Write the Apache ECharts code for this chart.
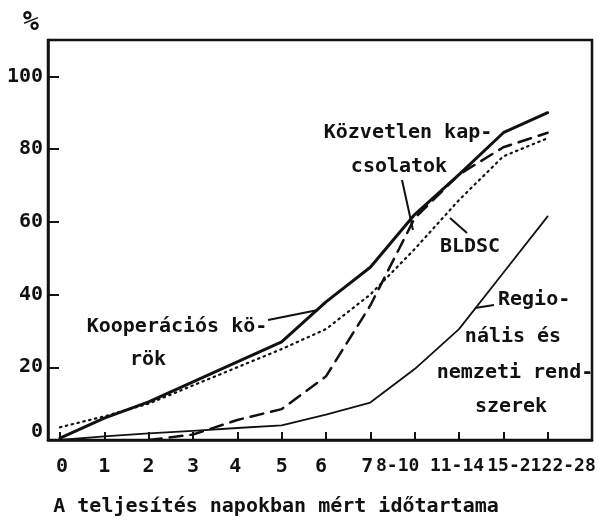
<!DOCTYPE html>
<html>
<head>
<meta charset="utf-8">
<script src="https://cdn.jsdelivr.net/npm/echarts@6/dist/echarts.min.js"></script>
<style>
html, body { margin: 0; padding: 0; background: #fff; }
#main { width: 598px; height: 523px; }
</style>
</head>
<body>
<div id="main"></div>
<script>
// napok (x tengely kategóriái)
const categories = ['0', '1', '2', '3', '4', '5', '6', '7', '8-10', '11-14', '15-21', '22-28'];
const yTicks = [0, 20, 40, 60, 80, 100];
// görbék, %
const kooperacios = [0.5, 6, 10.5, 16, 21.5, 27, 38, 47.5, 62, 73, 84.5, 90];
const bldsc = [3.5, 6.5, 10, 15, 20, 25, 30.5, 40, 52.5, 66, 78, 83];
const kozvetlen = [null, null, 0, 1.5, 5.5, 8.5, 17.5, 37, 61, 73, 80.5, 84.5];
const regionalis = [0, 1, 1.8, 2.5, 3.3, 4, 7, 10.3, 19.5, 30.5, 46, 61.5];

// a címkék vízszintes eltolása (px), ahogy az eredetin állnak
const labelShift = [2, 0, 0, 0, -2, 0, -5, -3, -17, -2, 11, 21];

const ink = '#111';
const font = '"DejaVu Sans Mono", monospace';

const toPairs = (arr) => arr.map((v, i) => [i, v]);
const xIdx = categories.map((c, i) => i);

const rich = {};
labelShift.forEach((s, i) => {
  rich['p' + i] = {
    fontFamily: font,
    fontSize: i < 8 ? 20 : 18,
    fontWeight: 'bold',
    color: ink,
    padding: s > 0 ? [0, 0, 0, 2 * s] : [0, -2 * s, 0, 0],
  };
});

const myChart = echarts.init(document.getElementById('main'));

const lineSeries = (name, data, width, type) => ({
  name: name,
  type: 'line',
  data: toPairs(data),
  showSymbol: false,
  symbol: 'none',
  connectNulls: false,
  silent: true,
  lineStyle: { color: ink, width: width, type: type, cap: 'round', join: 'round' },
});

const txt = (text, x, y, align) => ({
  type: 'text',
  x: x,
  y: y,
  silent: true,
  style: {
    text: text,
    fill: ink,
    font: 'bold 20px ' + font,
    textAlign: align || 'center',
    textVerticalAlign: 'middle',
    align: align || 'center',
    verticalAlign: 'middle',
  },
});

const leader = (x1, y1, x2, y2) => ({
  type: 'line',
  silent: true,
  shape: { x1: x1, y1: y1, x2: x2, y2: y2 },
  style: { stroke: ink, lineWidth: 2 },
});

const options = {
  backgroundColor: '#fff',
  animation: false,
  grid: {
    left: 48,
    top: 40,
    right: 6,
    bottom: 83,
    containLabel: false,
    outerBoundsMode: 'none',
    show: true,
    borderColor: ink,
    borderWidth: 2.5,
  },
  xAxis: {
    type: 'value',
    min: -0.27,
    max: 12,
    name: 'A teljesítés napokban mért időtartama',
    nameLocation: 'middle',
    nameGap: 57,
    nameTextStyle: {
      fontFamily: font,
      fontSize: 20,
      fontWeight: 'bold',
      color: ink,
      padding: [0, 88, 0, 0],
    },
    axisLine: { show: true, onZero: false, lineStyle: { color: ink, width: 2.5 } },
    axisTick: {
      show: true,
      inside: true,
      length: 8,
      customValues: xIdx,
      lineStyle: { color: ink, width: 2 },
    },
    axisLabel: {
      // a 12-es üres címke csak azért kell, hogy a 22-28 ne tűnjön el
      customValues: xIdx.concat([12]),
      margin: 17,
      hideOverlap: false,
      showMinLabel: true,
      showMaxLabel: false,
      formatter: (v) => (v < categories.length ? '{p' + v + '|' + categories[v] + '}' : ''),
      rich: rich,
    },
    splitLine: { show: false },
  },
  yAxis: {
    type: 'value',
    min: 0,
    max: 110,
    name: '%',
    nameLocation: 'end',
    nameGap: 4,
    nameTextStyle: {
      fontFamily: font,
      fontSize: 27,
      fontWeight: 'bold',
      color: ink,
      padding: [0, 34, 0, 0],
    },
    axisLine: { show: true, onZero: false, lineStyle: { color: ink, width: 2.5 } },
    axisTick: {
      show: true,
      inside: true,
      length: 11,
      customValues: yTicks,
      lineStyle: { color: ink, width: 2 },
    },
    axisLabel: {
      customValues: yTicks,
      margin: 5,
      fontFamily: font,
      fontSize: 20,
      fontWeight: 'bold',
      color: ink,
      formatter: (v) => (v === 0 ? '{z|0}' : String(v)),
      rich: {
        z: { fontFamily: font, fontSize: 20, fontWeight: 'bold', color: ink, padding: [0, 0, 16, 0] },
      },
    },
    splitLine: { show: false },
  },
  series: [
    lineSeries('Kooperációs körök', kooperacios, 3, 'solid'),
    lineSeries('BLDSC', bldsc, 2.2, [1.5, 4.5]),
    lineSeries('Közvetlen kapcsolatok', kozvetlen, 2.5, [13, 8]),
    lineSeries('Regionális és nemzeti rendszerek', regionalis, 1.8, 'solid'),
  ],
  graphic: [
    txt('Közvetlen kap-', 408, 133),
    txt('csolatok', 399, 167),
    leader(402, 180, 413, 230),
    txt('BLDSC', 470, 247),
    leader(450, 218, 467, 233),
    txt('Regio-', 498, 300, 'left'),
    leader(475, 308, 494, 305),
    txt('nális és', 513, 337),
    txt('nemzeti rend-', 515, 373),
    txt('szerek', 511, 407),
    txt('Kooperációs kö-', 177, 327),
    txt('rök', 148, 360),
    leader(268, 320, 318, 310),
  ],
};

myChart.setOption(options);
window.onresize = function () {
  myChart.resize();
};
</script>
</body>
</html>
